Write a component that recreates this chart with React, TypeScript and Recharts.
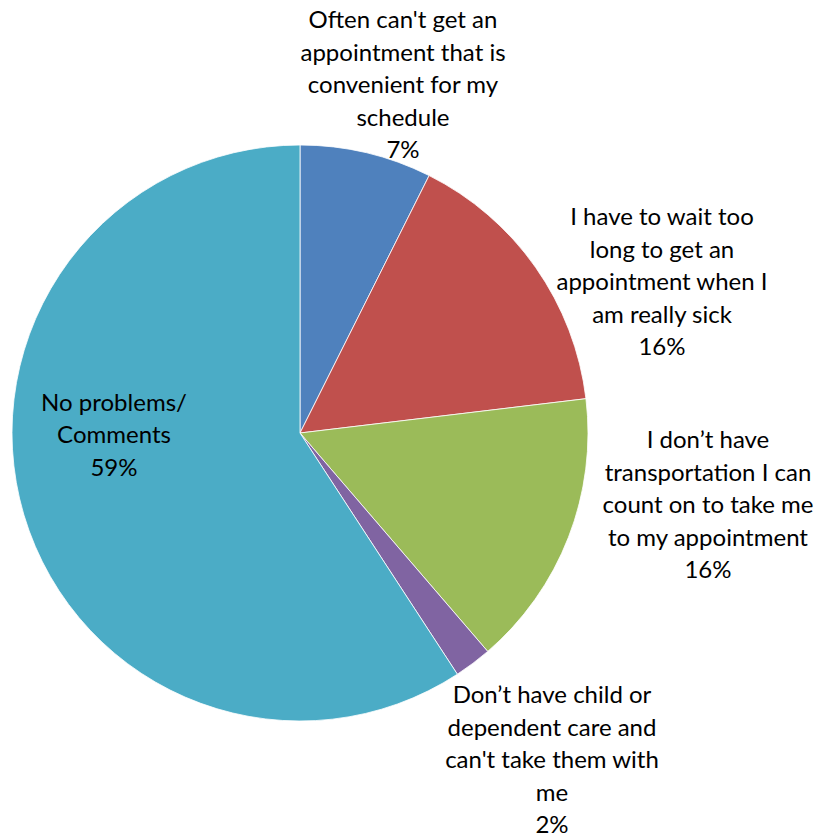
import { PieChart, Pie, Cell } from 'recharts'

const categories = [
  "Often can't get an appointment that is convenient for my schedule",
  'I have to wait too long to get an appointment when I am really sick',
  'I don’t have transportation I can count on to take me to my appointment',
  "Don’t have child or dependent care and can't take them with me",
  'No problems/ Comments',
]

// label lines as wrapped in the original chart
const labelLines = [
  ["Often can't get an", 'appointment that is', 'convenient for my', 'schedule'],
  ['I have to wait too', 'long to get an', 'appointment when I', 'am really sick'],
  ['I don’t have', 'transportation I can', 'count on to take me', 'to my appointment'],
  ['Don’t have child or', 'dependent care and', "can't take them with", 'me'],
  ['No problems/', 'Comments'],
]

const shares = [7.4, 15.7, 15.6, 2.1, 59.2]

const colors = ['#4F81BD', '#C0504D', '#9BBB59', '#8064A2', '#4BACC6']

// label block centres, relative to the pie centre
const labelOffsets = [
  [103, -350],
  [362, -153],
  [408, 70],
  [252, 325],
  [-186, 0],
]

const data = categories.map((name, i) => ({ name, value: shares[i] }))

const LINE_H = 32.5

function renderLabel(props: any) {
  const { cx, cy, index, percent } = props
  const lines = [...labelLines[index], `${Math.round(percent * 100)}%`]
  const [dx, dy] = labelOffsets[index]
  const x = cx + dx
  const top = cy + dy - ((lines.length - 1) * LINE_H) / 2
  return (
    <text
      x={x}
      y={top}
      textAnchor="middle"
      dominantBaseline="central"
      fill="#000"
      fontSize={24}
      fontFamily="Lato, 'Noto Sans', sans-serif"
    >
      {lines.map((l, k) => (
        <tspan key={k} x={x} y={top + k * LINE_H}>
          {l}
        </tspan>
      ))}
    </text>
  )
}

export default function App() {
  return (
    <div style={{ position: 'absolute', left: 0, top: 0, background: '#fff' }}>
      <PieChart width={824} height={838} margin={{ top: 0, right: 0, bottom: 0, left: 0 }}>
        <Pie
          data={data}
          dataKey="value"
          nameKey="name"
          cx={300}
          cy={433}
          outerRadius={288}
          startAngle={90}
          endAngle={-270}
          stroke="#ffffff"
          strokeWidth={0.8}
          label={renderLabel}
          labelLine={false}
          isAnimationActive={false}
        >
          {data.map((d, i) => (
            <Cell key={d.name} fill={colors[i]} />
          ))}
        </Pie>
      </PieChart>
    </div>
  )
}
